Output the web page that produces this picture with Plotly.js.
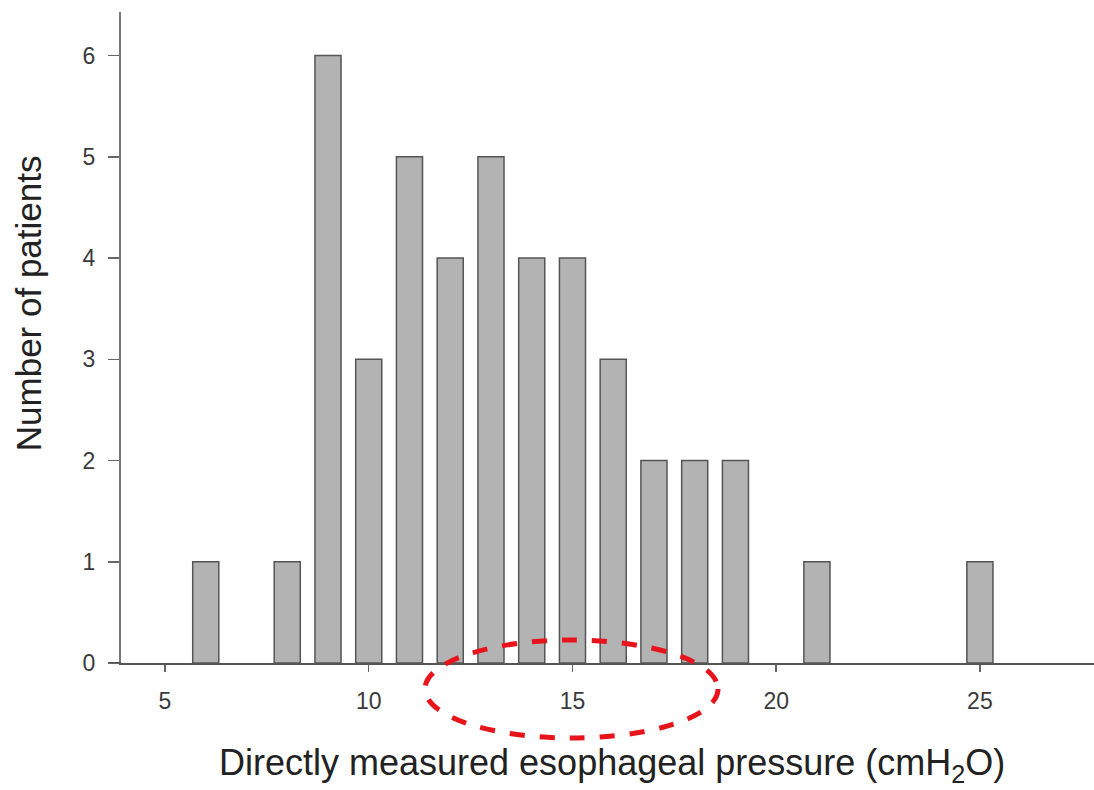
<!DOCTYPE html>
<html>
<head>
<meta charset="utf-8">
<script src="https://cdn.plot.ly/plotly-3.0.1.min.js"></script>
<style>html,body{margin:0;padding:0;background:#fff;}#chart{width:1094px;height:790px;}</style>
</head>
<body>
<div id="chart"></div>
<script>
const pressure = [6, 8, 9, 10, 11, 12, 13, 14, 15, 16, 17, 18, 19, 21, 25];
const patients = [1, 1, 6, 3, 5, 4, 5, 4, 4, 3, 2, 2, 2, 1, 1];
const xTicks = [5, 10, 15, 20, 25];
const yTicks = [0, 1, 2, 3, 4, 5, 6];
const xTitle = 'Directly measured esophageal pressure (cmH<sub>2</sub>O)';
const yTitle = 'Number of patients';

const trace = {
  type: 'bar',
  x: pressure,
  y: patients,
  width: 0.64,
  marker: {color: '#b3b3b3', line: {color: '#555555', width: 1.5}},
  hoverinfo: 'x+y'
};

const layout = {
  width: 1094, height: 790,
  margin: {l: 121, r: 0, t: 12, b: 127},
  paper_bgcolor: '#ffffff', plot_bgcolor: '#ffffff',
  showlegend: false,
  font: {family: 'Liberation Sans, Arial, sans-serif', color: '#333333'},
  xaxis: {
    range: [3.92, 27.8],
    tickvals: xTicks, ticktext: xTicks.map(String),
    ticks: 'outside', ticklen: 7, tickwidth: 1.5, tickcolor: '#666666',
    ticklabelstandoff: 9,
    showline: true, linecolor: '#555555', linewidth: 2,
    showgrid: false, zeroline: false,
    tickfont: {size: 23, color: '#3a3a3a'}
  },
  yaxis: {
    range: [0, 6.43],
    tickvals: yTicks, ticktext: yTicks.map(String),
    ticks: 'outside', ticklen: 11, tickwidth: 1.5, tickcolor: '#666666',
    ticklabelstandoff: 8,
    showline: true, linecolor: '#777777', linewidth: 2,
    showgrid: false, zeroline: false,
    tickfont: {size: 23, color: '#3a3a3a'}
  },
  annotations: [
    {text: xTitle, xref: 'paper', yref: 'paper', x: 0.505, y: -0.157,
     xanchor: 'center', yanchor: 'middle', showarrow: false,
     font: {size: 36, color: '#222222'}},
    {text: yTitle, xref: 'paper', yref: 'paper', x: -0.095, y: 0.552,
     xanchor: 'center', yanchor: 'middle', showarrow: false, textangle: -90,
     font: {size: 35, color: '#222222'}}
  ],
  shapes: [
    {type: 'line', xref: 'paper', yref: 'y', x0: -0.012, x1: 0, y0: 0, y1: 0,
     line: {color: '#555555', width: 2}},
    {type: 'circle', xref: 'paper', yref: 'paper', x0: 0.3124, x1: 0.6136, y0: -0.1152, y1: 0.0353,
     line: {color: '#e8141c', width: 5, dash: 'dash'}, fillcolor: 'rgba(0,0,0,0)'}
  ]
};

Plotly.newPlot('chart', [trace], layout, {displayModeBar: false, staticPlot: true});
</script>
</body>
</html>
